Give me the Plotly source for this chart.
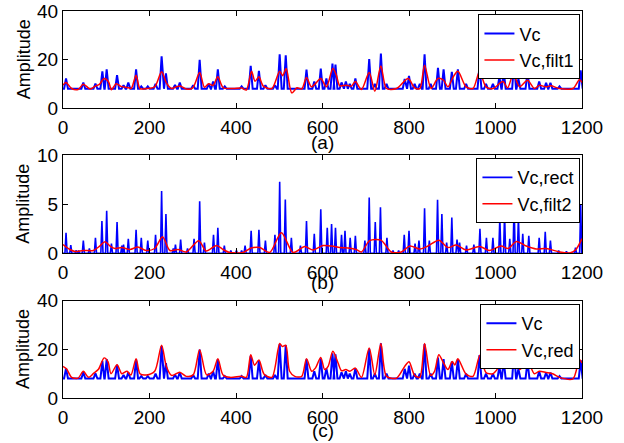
import plotly.graph_objects as go

# ---------------- data ----------------
# Vc : spike peaks (sample index, amplitude) on a baseline
vc_base = 8.0
vc_peak_t = [7, 47, 75, 91, 101, 125, 140, 151, 169, 181, 196, 214, 228, 238, 259, 270,
             301, 316, 337, 347, 358, 374, 413, 434, 453, 468, 490, 501, 515, 563, 581,
             596, 609, 623, 630, 644, 654, 663, 676, 708, 721, 735, 748, 790, 800, 813,
             825, 836, 850, 867, 880, 899, 913, 932, 963, 978, 994, 1009, 1019, 1043,
             1053, 1074, 1101, 1117, 1127, 1148, 1197]
vc_peak_v = [12.2, 10.6, 10.1, 15.2, 16.0, 13.6, 9.5, 10.6, 16.0, 9.0, 9.0, 10.0, 21.4, 14.3,
             9.6, 10.6, 9.5, 19.9, 10.0, 11.0, 16.0, 9.0, 9.0, 17.4, 15.4, 9.5, 9.5, 22.2,
             21.8, 15.9, 11.0, 16.3, 12.2, 18.4, 18.0, 10.6, 11.0, 10.0, 12.2, 20.2, 10.0,
             22.5, 10.0, 12.0, 13.3, 10.0, 10.0, 22.2, 10.0, 16.6, 16.0, 15.0, 16.0, 10.0,
             17.7, 10.0, 10.0, 12.9, 15.4, 19.0, 12.0, 15.0, 11.0, 10.5, 10.5, 9.0, 15.6]

# Vc,filt1
filt1_t = [0, 7, 20, 35, 47, 63, 75, 84, 95, 105, 112, 123, 134, 151, 158, 169, 178, 193,
           212, 228, 239, 251, 262, 271, 285, 300, 316, 327, 337, 347, 358, 370, 393, 413,
           424, 436, 444, 453, 463, 483, 501, 508, 516, 529, 541, 552, 563, 574, 582, 596,
           609, 624, 632, 640, 655, 667, 676, 690, 708, 721, 735, 748, 771, 798, 813, 825,
           836, 851, 867, 880, 890, 901, 913, 932, 948, 963, 978, 994, 1017, 1028, 1041,
           1056, 1074, 1090, 1101, 1117, 1128, 1148, 1179, 1194, 1200]
filt1_v = [9.5, 10.6, 8.1, 7.7, 9.9, 7.9, 9.1, 9.8, 12.2, 11.0, 7.6, 10.1, 9.0, 8.4, 8.2,
           13.6, 8.1, 8.1, 8.8, 15.0, 10.4, 8.1, 8.8, 9.1, 7.9, 8.4, 14.7, 8.6, 10.1, 9.4,
           12.9, 8.5, 8.1, 8.3, 7.5, 15.2, 11.1, 12.9, 9.1, 8.1, 15.2, 13.4, 16.3, 6.3, 8.4,
           7.9, 12.6, 8.8, 9.8, 12.2, 8.8, 16.3, 13.6, 9.2, 9.5, 9.1, 11.0, 7.7, 14.7, 7.0,
           17.4, 8.1, 8.1, 12.2, 8.4, 8.1, 17.7, 8.1, 12.2, 11.5, 8.8, 12.5, 15.2, 8.8, 8.1,
           15.0, 8.8, 8.1, 11.0, 8.4, 13.9, 8.8, 11.5, 8.1, 9.4, 8.8, 9.2, 8.1, 8.1, 11.7, 10.6]

# Vc,rect : spike peaks on zero
rect_base = 0.0
rect_peak_t = [7, 18, 30, 36, 47, 61, 75, 90, 101, 112, 125, 136, 140, 151, 169, 181, 196,
               214, 228, 238, 255, 260, 272, 288, 303, 316, 327, 348, 358, 373, 388, 401,
               413, 421, 435, 453, 468, 490, 501, 514, 528, 549, 563, 581, 596, 611, 621,
               630, 644, 652, 664, 676, 698, 708, 722, 734, 749, 763, 776, 789, 800, 814,
               823, 836, 847, 866, 876, 887, 899, 911, 917, 933, 950, 964, 979, 994, 1010,
               1021, 1033, 1043, 1053, 1063, 1077, 1101, 1115, 1127, 1146, 1164, 1185, 1197]
rect_peak_v = [2.1, 0.85, 0.3, 0.3, 1.3, 0.5, 1.6, 3.3, 4.35, 1.0, 3.2, 0.8, 0.9, 1.5, 2.4,
               1.6, 1.3, 1.9, 6.35, 4.0, 0.5, 0.9, 1.4, 0.5, 1.5, 5.3, 1.1, 1.9, 2.6, 0.8,
               0.3, 0.3, 0.3, 0.8, 2.3, 2.4, 1.3, 1.9, 7.3, 5.5, 1.6, 0.8, 3.3, 2.0, 4.5,
               2.6, 3.0, 2.6, 1.9, 2.3, 1.6, 1.8, 1.3, 5.7, 3.2, 4.7, 1.6, 0.3, 0.3, 1.9,
               2.3, 1.0, 1.3, 4.6, 1.3, 5.45, 4.0, 1.1, 3.65, 1.4, 1.1, 0.8, 0.9, 2.5, 1.6,
               1.6, 3.6, 4.0, 1.5, 5.0, 3.65, 2.0, 1.8, 1.6, 2.2, 1.3, 0.3, 0.2, 0.6, 5.0]

# Vc,filt2
filt2_t = [0, 16, 28, 47, 70, 85, 97, 109, 120, 136, 155, 173, 192, 212, 230, 247, 266,
           285, 314, 331, 355, 370, 385, 416, 435, 455, 478, 505, 532, 559, 578, 601, 621,
           640, 659, 678, 690, 709, 735, 759, 782, 802, 825, 844, 869, 890, 909, 932, 963,
           986, 1013, 1029, 1048, 1071, 1094, 1117, 1148, 1171, 1185, 1200]
filt2_v = [0.9, 0.4, 0.2, 0.3, 0.3, 0.75, 1.2, 0.75, 0.5, 0.6, 0.4, 0.65, 0.3, 0.5, 1.7,
           0.3, 0.4, 0.15, 1.3, 0.25, 0.8, 0.4, 0.1, 0.1, 0.55, 0.6, 0.1, 2.1, 0.1, 0.7,
           0.35, 0.8, 0.75, 0.6, 0.55, 0.4, 0.15, 1.3, 1.35, 0.15, 0.15, 0.75, 0.45, 0.75,
           1.35, 0.6, 0.85, 0.35, 0.7, 0.3, 0.75, 0.5, 1.2, 0.75, 0.45, 0.5, 0.15, 0.05,
           0.35, 1.5]

# Vc,red
red_t = [0, 8, 20, 35, 47, 59, 70, 82, 95, 104, 111, 125, 136, 148, 157, 169, 178, 193,
         212, 228, 239, 251, 270, 285, 301, 316, 332, 347, 358, 370, 386, 413, 424, 434,
         443, 453, 465, 483, 501, 507, 515, 524, 536, 552, 563, 575, 584, 596, 605, 613,
         624, 636, 644, 654, 663, 676, 690, 708, 721, 735, 748, 771, 790, 800, 813, 825,
         836, 850, 859, 869, 880, 890, 900, 906, 913, 932, 948, 964, 978, 994, 1009, 1019,
         1028, 1043, 1056, 1074, 1090, 1101, 1117, 1132, 1148, 1179, 1194, 1200]
red_v = [13.0, 12.0, 8.5, 8.2, 11.0, 8.5, 10.0, 11.8, 16.5, 15.0, 10.0, 13.7, 10.0, 11.0,
         9.5, 16.2, 10.0, 9.5, 11.0, 21.7, 13.0, 9.3, 10.6, 8.9, 9.5, 19.9, 9.5, 11.0, 16.2,
         9.5, 8.5, 8.9, 8.5, 17.8, 13.5, 15.6, 9.8, 8.5, 22.4, 21.2, 21.7, 11.0, 8.9, 8.9,
         16.2, 11.0, 12.4, 16.7, 11.7, 13.0, 19.2, 14.4, 11.2, 11.7, 11.0, 12.3, 8.5, 20.6,
         9.5, 22.4, 8.9, 8.2, 13.0, 14.9, 9.3, 8.5, 22.4, 9.3, 11.0, 17.8, 14.4, 11.7, 15.0,
         13.6, 16.2, 9.8, 8.9, 17.6, 10.5, 10.0, 13.0, 15.8, 12.3, 19.2, 11.7, 14.9, 10.0,
         11.0, 10.5, 10.0, 8.5, 7.9, 15.8, 14.4]

x_ticks = [0, 200, 400, 600, 800, 1000, 1200]
panel_labels = ["(a)", "(b)", "(c)"]


def spike_line(peak_t, peak_v, base, half):
    """Polyline vertices: baseline - peak - baseline for each read peak."""
    xs, ys = [0], [base]
    for t, v in zip(peak_t, peak_v):
        xs += [t - half, t, t + half]
        ys += [base, v, base]
    xs.append(1200)
    ys.append(base)
    return xs, ys


FONT = "Liberation Sans, Arial, Helvetica, sans-serif"
BLUE = "#0000FF"
RED = "#FF0000"

vc_x, vc_y = spike_line(vc_peak_t, vc_peak_v, vc_base, 4.5)
rect_x, rect_y = spike_line(rect_peak_t, rect_peak_v, rect_base, 2.5)

fig = go.Figure()
# (a)
fig.add_trace(go.Scatter(x=vc_x, y=vc_y, mode="lines", name="Vc",
                         line=dict(color=BLUE, width=2), xaxis="x", yaxis="y",
                         legend="legend"))
fig.add_trace(go.Scatter(x=filt1_t, y=filt1_v, mode="lines", name="Vc,filt1",
                         line=dict(color=RED, width=1.5, shape="spline", smoothing=0.8),
                         xaxis="x", yaxis="y", legend="legend"))
# (b)
fig.add_trace(go.Scatter(x=rect_x, y=rect_y, mode="lines", name="Vc,rect",
                         line=dict(color=BLUE, width=1.6), xaxis="x2", yaxis="y2",
                         legend="legend2"))
fig.add_trace(go.Scatter(x=filt2_t, y=filt2_v, mode="lines", name="Vc,filt2",
                         line=dict(color=RED, width=1.5, shape="spline", smoothing=0.8),
                         xaxis="x2", yaxis="y2", legend="legend2"))
# (c)
fig.add_trace(go.Scatter(x=vc_x, y=vc_y, mode="lines", name="Vc",
                         line=dict(color=BLUE, width=2), xaxis="x3", yaxis="y3",
                         legend="legend3"))
fig.add_trace(go.Scatter(x=red_t, y=red_v, mode="lines", name="Vc,red",
                         line=dict(color=RED, width=1.5, shape="spline", smoothing=0.8),
                         xaxis="x3", yaxis="y3", legend="legend3"))

axis_common = dict(showline=True, linecolor="black", linewidth=1, mirror="ticks",
                   ticks="inside", ticklen=5, tickcolor="black", tickwidth=1,
                   showgrid=False, zeroline=False, automargin=False,
                   tickfont=dict(family=FONT, size=19, color="black"))

domains = [[0.7488, 1.0], [0.3736, 0.6274], [0.0, 0.2512]]
yranges = [[0, 40], [0, 10], [0, 40]]
yticks = [[0, 20, 40], [0, 5, 10], [0, 20, 40]]

layout = dict(width=624, height=443, paper_bgcolor="white", plot_bgcolor="white",
              template="none",
              margin=dict(l=63, r=41.5, t=10.7, b=45, pad=0), showlegend=True)
for i in range(3):
    s = "" if i == 0 else str(i + 1)
    layout["xaxis" + s] = dict(axis_common, range=[0, 1200], tickvals=x_ticks,
                               domain=[0, 1], anchor="y" + s, ticklabelstandoff=2)
    layout["yaxis" + s] = dict(axis_common, range=yranges[i], tickvals=yticks[i],
                               domain=domains[i], anchor="x" + s)

legend_common = dict(bgcolor="white", bordercolor="black", borderwidth=1,
                     font=dict(family=FONT, size=18, color="black"),
                     xanchor="right", yanchor="top", x=0.997,
                     tracegroupgap=0, itemwidth=30)
layout["legend"] = dict(legend_common, y=0.9915)
layout["legend2"] = dict(legend_common, y=0.6197)
layout["legend3"] = dict(legend_common, y=0.2427)

ann = []
label_y = [0.6610, 0.2995, -0.0850]
amp_y = [(d[0] + d[1]) / 2 for d in domains]
for i in range(3):
    ann.append(dict(text=panel_labels[i], x=0.5, y=label_y[i], xref="paper", yref="paper",
                    showarrow=False, xanchor="center", yanchor="middle",
                    font=dict(family=FONT, size=19, color="black")))
    ann.append(dict(text="Amplitude", x=-0.076, y=amp_y[i], xref="paper", yref="paper",
                    showarrow=False, xanchor="center", yanchor="middle", textangle=-90,
                    font=dict(family=FONT, size=18, color="black")))
layout["annotations"] = ann

fig.update_layout(**layout)
fig.write_html("out.html", config={"displayModeBar": False},
               post_script="document.body.style.margin='0';document.body.style.overflow='hidden';")
